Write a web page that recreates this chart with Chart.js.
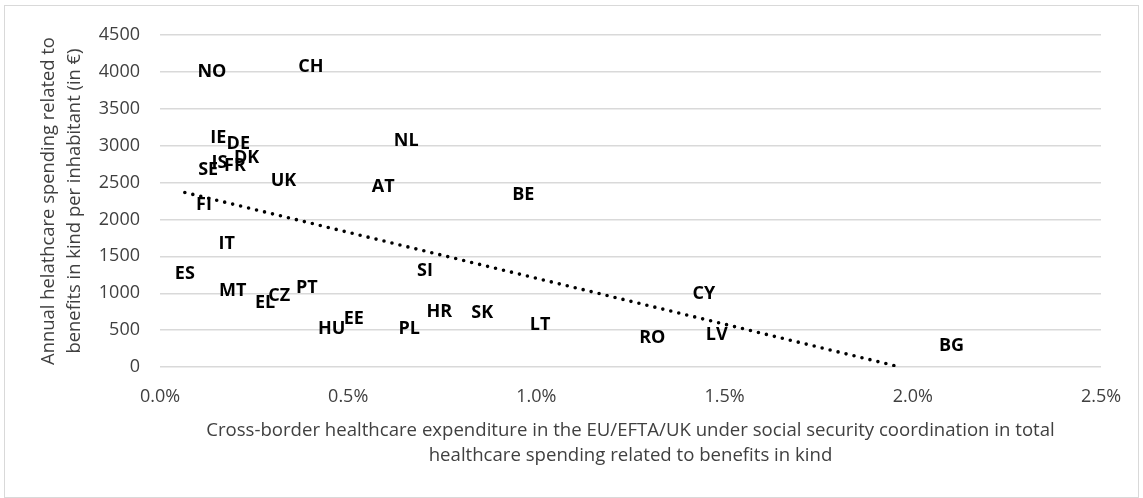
<!DOCTYPE html>
<html>
<head>
<meta charset="utf-8">
<script src="https://cdn.jsdelivr.net/npm/chart.js@4/dist/chart.umd.min.js"></script>
<style>
  html, body { margin: 0; padding: 0; background: #fff; }
  #wrap { position: relative; width: 1143px; height: 498px; }
</style>
</head>
<body>
<div id="wrap"><canvas id="scatterChart"></canvas></div>
<script>
// country codes and values
const countries = ['NO', 'CH', 'IE', 'DE', 'DK', 'IS', 'SE', 'FR', 'UK', 'FI',
  'IT', 'NL', 'AT', 'BE', 'ES', 'MT', 'EL', 'CZ', 'PT', 'HU',
  'EE', 'PL', 'HR', 'SK', 'SI', 'CY', 'LT', 'RO', 'LV', 'BG'];

// cross-border share of spending (in %)
const crossBorderShare = [0.138, 0.401, 0.155, 0.208, 0.230, 0.158, 0.128, 0.199, 0.328, 0.117,
  0.177, 0.654, 0.593, 0.965, 0.066, 0.193, 0.279, 0.317, 0.390, 0.456,
  0.515, 0.662, 0.742, 0.856, 0.704, 1.445, 1.010, 1.308, 1.479, 2.103];

// annual spending per inhabitant (in EUR)
const spendPerInhabitant = [4003, 4071, 3099, 3031, 2828, 2760, 2669, 2723, 2520, 2194,
  1665, 3066, 2442, 2330, 1267, 1031, 868, 959, 1077, 521,
  657, 512, 746, 733, 1303, 996, 566, 394, 440, 285];

// linear trendline end points
const trendX = [0.066, 1.966];
const trendY = [2366, 0];

const yTicks = [0, 500, 1000, 1500, 2000, 2500, 3000, 3500, 4000, 4500];

const FONT = "'Open Sans', 'DejaVu Sans', sans-serif";

/* =========================
   PLUGINS
 ========================= */
const framePlugin = {
  id: 'frame',
  beforeDraw(chart) {
    const ctx = chart.ctx;
    ctx.save();
    ctx.fillStyle = '#ffffff';
    ctx.fillRect(0, 0, chart.width, chart.height);
    ctx.strokeStyle = '#d9d9d9';
    ctx.lineWidth = 1;
    ctx.strokeRect(4.5, 5.5, chart.width - 9, chart.height - 6);
    ctx.restore();
  }
};

const pointLabels = {
  id: 'pointLabels',
  afterDatasetsDraw(chart) {
    const meta = chart.getDatasetMeta(0);
    const ctx = chart.ctx;
    ctx.save();
    ctx.font = 'bold 18px ' + FONT;
    ctx.fillStyle = '#000000';
    ctx.textAlign = 'center';
    ctx.textBaseline = 'middle';
    meta.data.forEach((pt, i) => {
      ctx.fillText(countries[i], pt.x, pt.y);
    });
    ctx.restore();
  }
};

/* =========================
   CHART
 ========================= */
const ctx = document.getElementById('scatterChart').getContext('2d');

new Chart(ctx, {
  type: 'scatter',
  data: {
    datasets: [
      {
        label: 'Countries',
        data: countries.map((c, i) => ({ x: crossBorderShare[i], y: spendPerInhabitant[i] })),
        pointRadius: 0,
        pointHoverRadius: 0,
        showLine: false
      },
      {
        label: 'Trend',
        data: trendX.map((x, i) => ({ x: x, y: trendY[i] })),
        showLine: true,
        pointRadius: 0,
        borderColor: '#000000',
        borderWidth: 3.6,
        borderDash: [0, 8.2],
        borderCapStyle: 'round',
        fill: false
      }
    ]
  },
  options: {
    responsive: true,
    maintainAspectRatio: false,
    animation: false,
    layout: { padding: { top: 35, right: 42, bottom: 0, left: 0 } },
    plugins: {
      legend: { display: false },
      tooltip: { enabled: false }
    },
    scales: {
      x: {
        type: 'linear',
        min: 0,
        max: 2.5,
        afterFit: s => { s.height = 131; },
        ticks: {
          stepSize: 0.5,
          padding: 19,
          color: '#404040',
          font: { family: FONT, size: 18 },
          callback: v => v.toFixed(1) + '%'
        },
        grid: { display: false, drawTicks: false },
        border: { display: false },
        title: {
          display: true,
          text: ['Cross-border healthcare expenditure in the EU/EFTA/UK under social security coordination in total',
            'healthcare spending related to benefits in kind'],
          color: '#404040',
          font: { family: FONT, size: 18.6, lineHeight: '25px' },
          padding: { top: 0, bottom: 30 }
        }
      },
      y: {
        type: 'linear',
        min: 0,
        max: 4500,
        afterFit: s => { s.width = 160; },
        afterBuildTicks: s => { s.ticks = yTicks.map(v => ({ value: v })); },
        ticks: {
          padding: 20,
          color: '#404040',
          font: { family: FONT, size: 18 },
          callback: v => String(v)
        },
        grid: { color: '#d9d9d9', lineWidth: 1.4, drawTicks: false },
        border: { display: false },
        title: {
          display: true,
          text: ['Annual helathcare spending related to', 'benefits in kind per inhabitant (in \u20ac)'],
          color: '#404040',
          font: { family: FONT, size: 18.4, lineHeight: '26px' },
          padding: { top: 36, bottom: 0 }
        }
      }
    }
  },
  plugins: [framePlugin, pointLabels]
});
</script>
</body>
</html>
